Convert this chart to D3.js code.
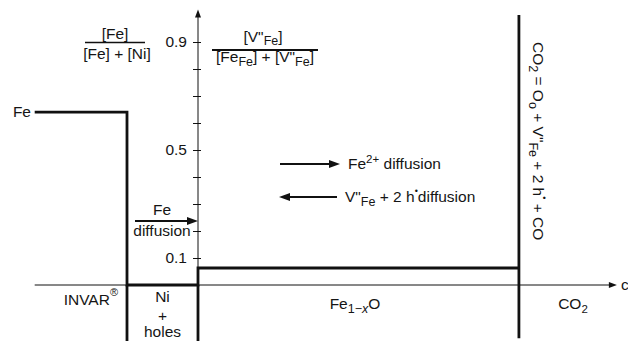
<!DOCTYPE html>
<html>
<head>
<meta charset="utf-8">
<script src="https://cdnjs.cloudflare.com/ajax/libs/d3/7.8.5/d3.min.js"></script>
<style>
  body { margin: 0; background: #fff; }
  svg { display: block; }
  text { font-family: "Liberation Sans", Arial, sans-serif; font-size: 15.5px; fill: #151515; }
</style>
</head>
<body>
<svg id="chart" width="628" height="341"></svg>
<script>
// Fe fraction profile across INVAR | Ni + holes | Fe1-xO | CO2
// x in arbitrary distance units (Ni + holes layer = 1 unit), y = concentration fraction

var profileX = [-2.3, -1, -1, 0, 0, 4.52];
var profileY = [0.64, 0.64, 0, 0, 0.063, 0.063];

var interfaces = [-1, 0, 4.52];        // INVAR/Ni, Ni/oxide, oxide/gas
var xMin = -2.3, xMax = 5.9;
var yTicks = [0.1, 0.2, 0.3, 0.4, 0.5, 0.6, 0.7, 0.8, 0.9];
var yTickLabels = [0.1, 0.5, 0.9];

var svg = d3.select("#chart");

var x = d3.scaleLinear().domain([-1, 0]).range([127, 198]);
var y = d3.scaleLinear().domain([0, 0.9]).range([285, 42]);

// arrowheads drawn as plain triangles (tip at x,y, pointing along dir)
function head(px, py, dir, len, half) {
  var p;
  if (dir === "right") p = [[px, py], [px - len, py - half], [px - len, py + half]];
  else if (dir === "left") p = [[px, py], [px + len, py - half], [px + len, py + half]];
  else p = [[px, py], [px - half, py + len], [px + half, py + len]];
  svg.append("path").attr("d", "M" + p.join("L") + "Z").attr("fill", "#111");
}

// x axis
svg.append("line")
  .attr("x1", x(xMin)).attr("x2", x(xMax) - 4)
  .attr("y1", y(0)).attr("y2", y(0))
  .attr("stroke", "#111").attr("stroke-width", 1);
head(x(xMax), y(0), "right", 8, 3);
svg.append("text").attr("x", x(xMax) + 4).attr("y", y(0) + 5).text("c");

// y axis
var yAxis = d3.axisLeft(y)
  .tickValues(yTicks)
  .tickSize(5)
  .tickPadding(6)
  .tickFormat(function(d) { return yTickLabels.indexOf(d) >= 0 ? d3.format(".1f")(d) : ""; });

var gy = svg.append("g").attr("transform", "translate(" + x(0) + ",0)").call(yAxis);
gy.select(".domain").remove();
gy.selectAll(".tick line").attr("x2", 3).attr("x1", -5).attr("stroke", "#111");
gy.selectAll(".tick text").style("font-family", "Liberation Sans, Arial, sans-serif").style("font-size", "15.5px").attr("fill", "#151515");
svg.append("line")
  .attr("x1", x(0)).attr("x2", x(0))
  .attr("y1", y(0)).attr("y2", y(1.02) + 4)
  .attr("stroke", "#111").attr("stroke-width", 1);
head(x(0), y(1.02), "up", 8, 3);

// profile (thick step line)
var yBottom = -0.21;
var pts = profileX.map(function(d, i) { return [d, profileY[i]]; });
var line = d3.line().x(function(d) { return x(d[0]); }).y(function(d) { return y(d[1]); });
svg.append("path").attr("d", line(pts))
  .attr("fill", "none").attr("stroke", "#111").attr("stroke-width", 2.8)
  .attr("stroke-linejoin", "miter");

// interface lines running below the axis
svg.append("line").attr("x1", x(interfaces[0])).attr("x2", x(interfaces[0]))
  .attr("y1", y(0)).attr("y2", y(yBottom)).attr("stroke", "#111").attr("stroke-width", 2.8);
svg.append("line").attr("x1", x(interfaces[1])).attr("x2", x(interfaces[1]))
  .attr("y1", y(0)).attr("y2", y(yBottom)).attr("stroke", "#111").attr("stroke-width", 2.8);
svg.append("line").attr("x1", x(interfaces[2])).attr("x2", x(interfaces[2]))
  .attr("y1", y(1.0)).attr("y2", y(-0.197)).attr("stroke", "#111").attr("stroke-width", 2.8);

// helper for rich text
function rich(parent, xx, yy, parts, anchor) {
  var t = parent.append("text").attr("x", xx).attr("y", yy).attr("text-anchor", anchor || "start");
  var shift = 0;
  parts.forEach(function(p) {
    var s = t.append("tspan").text(p.t);
    var target = p.dy || 0;
    if (target !== shift) { s.attr("dy", target - shift); shift = target; }
    if (p.size) s.style("font-size", p.size + "px");
    if (p.italic) s.style("font-style", "italic");
  });
  return t;
}

// Fe label
svg.append("text").attr("x", 31).attr("y", 117).attr("text-anchor", "end").text("Fe");

// left fraction
svg.append("text").attr("x", 115).attr("y", 39).attr("text-anchor", "middle").text("[Fe]");
svg.append("line").attr("x1", 85).attr("x2", 145).attr("y1", 42.5).attr("y2", 42.5)
  .attr("stroke", "#111").attr("stroke-width", 1.6);
svg.append("text").attr("x", 117).attr("y", 59).attr("text-anchor", "middle").text("[Fe] + [Ni]");

// right fraction
rich(svg, 263, 42, [{t: "[V\""}, {t: "Fe", size: 12.5, dy: 3}, {t: "]", dy: 0}], "middle");
svg.append("line").attr("x1", 212).attr("x2", 318).attr("y1", 50).attr("y2", 50)
  .attr("stroke", "#111").attr("stroke-width", 2);
rich(svg, 265, 62, [{t: "[Fe"}, {t: "Fe", size: 12.5, dy: 4}, {t: "] + [V\"", dy: 0}, {t: "Fe", size: 12.5, dy: 4}, {t: "]", dy: 0}], "middle");

// diffusion arrows
function arrow(x1, x2, yy) {
  var dir = x2 > x1 ? "right" : "left";
  var back = dir === "right" ? -6 : 6;
  svg.append("line").attr("x1", x1).attr("x2", x2 + back).attr("y1", yy).attr("y2", yy)
    .attr("stroke", "#111").attr("stroke-width", 2);
  head(x2, yy, dir, 11, 4);
}
arrow(280, 340, 164);
rich(svg, 348, 169, [{t: "Fe"}, {t: "2+", size: 11.5, dy: -6}, {t: " diffusion", dy: 0}]);
arrow(337, 279, 197);
rich(svg, 345, 202, [{t: "V\""}, {t: "Fe", size: 12.5, dy: 4}, {t: " + 2 h", dy: 0}, {t: "•", size: 9, dy: -8}, {t: "diffusion", dy: 0}]);

arrow(135, 198, 221);
svg.append("text").attr("x", 162).attr("y", 215).attr("text-anchor", "middle").text("Fe");
svg.append("text").attr("x", 162).attr("y", 236).attr("text-anchor", "middle").text("diffusion");

// zone labels
rich(svg, 118, 305, [{t: "INVAR"}, {t: "®", size: 11, dy: -9}], "end");
var niX = x((interfaces[0] + interfaces[1]) / 2);
svg.append("text").attr("x", niX).attr("y", 302).attr("text-anchor", "middle").text("Ni");
svg.append("text").attr("x", niX).attr("y", 321).attr("text-anchor", "middle").text("+");
svg.append("text").attr("x", niX).attr("y", 337).attr("text-anchor", "middle").text("holes");
rich(svg, 355, 309, [{t: "Fe"}, {t: "1\u2212", size: 12.5, dy: 4}, {t: "x", size: 12.5, italic: true, dy: 4}, {t: "O", dy: 0}], "middle");
rich(svg, 573, 309, [{t: "CO"}, {t: "2", size: 11.5, dy: 4}], "middle");

// reaction at the gas interface, rotated
var rg = svg.append("g").attr("transform", "translate(533,42) rotate(90)");
rich(rg, 0, 0, [
  {t: "CO"}, {t: "2", size: 12.5, dy: 4}, {t: " = O", dy: 0}, {t: "o", size: 12.5, dy: 4},
  {t: " + V\"", dy: 0}, {t: "Fe", size: 12.5, dy: 4}, {t: " + 2 h", dy: 0},
  {t: "•", size: 9, dy: -8}, {t: " + CO", dy: 0}
]);
</script>
</body>
</html>
